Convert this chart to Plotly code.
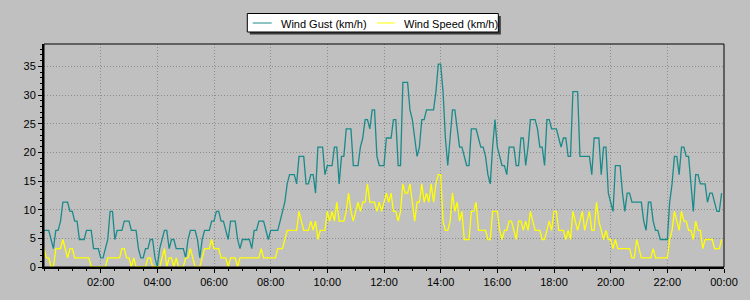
import pandas as pd
import plotly.graph_objects as go

# Five-minute samples for one day (km/h)
wind_gust = [
    6.4, 6.4, 6.4, 4.8, 3.2, 6.4, 6.4, 8.0, 11.3, 11.3, 11.3, 9.7,
    9.7, 8.0, 8.0, 4.8, 4.8, 4.8, 6.4, 6.4, 6.4, 3.2, 3.2, 3.2,
    1.6, 1.6, 3.2, 4.8, 9.7, 9.7, 4.8, 6.4, 6.4, 6.4, 8.0, 8.0,
    8.0, 6.4, 6.4, 6.4, 3.2, 1.6, 1.6, 3.2, 3.2, 4.8, 4.8, 1.6,
    0.0, 3.2, 4.8, 6.4, 6.4, 3.2, 4.8, 4.8, 3.2, 3.2, 3.2, 3.2,
    1.6, 4.8, 6.4, 6.4, 6.4, 4.8, 1.6, 4.8, 6.4, 6.4, 6.4, 8.0,
    8.0, 9.7, 9.7, 8.0, 8.0, 6.4, 4.8, 8.0, 8.0, 8.0, 4.8, 3.2,
    4.8, 4.8, 4.8, 4.8, 3.2, 6.4, 6.4, 8.0, 8.0, 8.0, 6.4, 4.8,
    6.4, 6.4, 6.4, 6.4, 8.0, 9.7, 11.3, 14.5, 16.1, 16.1, 16.1, 14.5,
    19.3, 19.3, 19.3, 14.5, 14.5, 16.1, 16.1, 12.9, 20.9, 20.9, 20.9, 16.1,
    17.7, 17.7, 17.7, 20.9, 20.9, 14.5, 19.3, 19.3, 24.1, 24.1, 24.1, 17.7,
    17.7, 17.7, 20.9, 22.5, 25.7, 25.7, 24.1, 27.4, 27.4, 19.3, 17.7, 17.7,
    17.7, 22.5, 22.5, 22.5, 25.7, 25.7, 17.7, 17.7, 32.2, 32.2, 32.2, 27.4,
    25.7, 22.5, 19.3, 20.9, 25.7, 25.7, 27.4, 27.4, 27.4, 27.4, 30.6, 35.4,
    35.4, 30.6, 22.5, 17.7, 22.5, 27.4, 27.4, 24.1, 20.9, 20.9, 19.3, 17.7,
    17.7, 24.1, 24.1, 24.1, 22.5, 20.9, 20.9, 19.3, 16.1, 14.5, 20.9, 25.7,
    20.9, 19.3, 17.7, 17.7, 16.1, 20.9, 20.9, 20.9, 17.7, 17.7, 22.5, 22.5,
    17.7, 20.9, 25.7, 25.7, 25.7, 24.1, 20.9, 20.9, 17.7, 25.7, 25.7, 24.1,
    24.1, 24.1, 22.5, 20.9, 22.5, 22.5, 19.3, 19.3, 30.6, 30.6, 30.6, 19.3,
    19.3, 19.3, 19.3, 19.3, 16.1, 22.5, 22.5, 22.5, 16.1, 20.9, 20.9, 12.9,
    11.3, 9.7, 17.7, 17.7, 17.7, 12.9, 9.7, 12.9, 12.9, 11.3, 11.3, 11.3,
    11.3, 11.3, 8.0, 6.4, 11.3, 11.3, 8.0, 6.4, 6.4, 4.8, 4.8, 4.8,
    4.8, 11.3, 14.5, 19.3, 19.3, 16.1, 20.9, 20.9, 19.3, 19.3, 14.5, 9.7,
    16.1, 16.1, 14.5, 14.5, 14.5, 11.3, 12.9, 12.9, 11.3, 9.7, 9.7, 12.9,
]

wind_speed = [
    3.2, 1.6, 1.6, 0.0, 0.0, 3.2, 3.2, 3.2, 4.8, 3.2, 1.6, 3.2,
    3.2, 1.6, 1.6, 1.6, 1.6, 1.6, 1.6, 1.6, 0.0, 0.0, 0.0, 0.0,
    0.0, 0.0, 0.0, 1.6, 1.6, 1.6, 1.6, 1.6, 1.6, 3.2, 3.2, 1.6,
    1.6, 0.0, 1.6, 0.0, 0.0, 0.0, 0.0, 0.0, 1.6, 1.6, 0.0, 0.0,
    0.0, 0.0, 1.6, 3.2, 0.0, 1.6, 1.6, 0.0, 1.6, 0.0, 0.0, 0.0,
    1.6, 1.6, 3.2, 1.6, 0.0, 0.0, 0.0, 1.6, 3.2, 3.2, 3.2, 4.8,
    3.2, 3.2, 3.2, 1.6, 1.6, 1.6, 0.0, 1.6, 1.6, 1.6, 0.0, 1.6,
    1.6, 1.6, 1.6, 1.6, 1.6, 1.6, 1.6, 1.6, 3.2, 1.6, 1.6, 1.6,
    1.6, 1.6, 1.6, 3.2, 3.2, 3.2, 4.8, 6.4, 6.4, 6.4, 6.4, 6.4,
    9.7, 8.0, 6.4, 6.4, 6.4, 8.0, 6.4, 8.0, 4.8, 6.4, 6.4, 6.4,
    9.7, 8.0, 9.7, 8.0, 11.3, 8.0, 8.0, 8.0, 9.7, 12.9, 9.7, 8.0,
    9.7, 11.3, 9.7, 11.3, 11.3, 14.5, 11.3, 11.3, 11.3, 9.7, 11.3, 9.7,
    11.3, 12.9, 11.3, 12.9, 9.7, 9.7, 8.0, 9.7, 14.5, 12.9, 12.9, 14.5,
    11.3, 8.0, 11.3, 11.3, 14.5, 11.3, 12.9, 11.3, 14.5, 11.3, 14.5, 16.1,
    16.1, 8.0, 6.4, 6.4, 8.0, 12.9, 9.7, 11.3, 8.0, 9.7, 4.8, 4.8,
    4.8, 9.7, 9.7, 11.3, 6.4, 6.4, 6.4, 6.4, 4.8, 4.8, 9.7, 9.7,
    9.7, 6.4, 4.8, 6.4, 6.4, 8.0, 8.0, 6.4, 4.8, 8.0, 8.0, 6.4,
    8.0, 6.4, 9.7, 8.0, 6.4, 6.4, 6.4, 4.8, 4.8, 6.4, 8.0, 6.4,
    9.7, 9.7, 6.4, 6.4, 6.4, 4.8, 6.4, 4.8, 9.7, 8.0, 6.4, 8.0,
    9.7, 6.4, 8.0, 9.7, 6.4, 6.4, 11.3, 8.0, 6.4, 4.8, 6.4, 4.8,
    4.8, 3.2, 4.8, 3.2, 3.2, 3.2, 3.2, 3.2, 3.2, 1.6, 1.6, 4.8,
    3.2, 1.6, 1.6, 1.6, 1.6, 1.6, 3.2, 1.6, 1.6, 1.6, 1.6, 1.6,
    1.6, 4.8, 6.4, 9.7, 8.0, 6.4, 9.7, 8.0, 8.0, 6.4, 6.4, 4.8,
    8.0, 6.4, 6.4, 3.2, 4.8, 4.8, 4.8, 4.8, 3.2, 3.2, 3.2, 4.8,
]

series_names = ["Wind Gust (km/h)", "Wind Speed (km/h)"]
series_colors = ["#1A8A8A", "#FFFF00"]

times = pd.date_range("2024-01-01 00:00", periods=len(wind_gust), freq="5min")

x_tick_values = pd.date_range("2024-01-01 02:00", "2024-01-02 00:00", freq="2h")
x_tick_labels = ["02:00", "04:00", "06:00", "08:00", "10:00", "12:00",
                 "14:00", "16:00", "18:00", "20:00", "22:00", "00:00"]
y_tick_values = [0, 5, 10, 15, 20, 25, 30, 35]

FONT = "Liberation Sans, Arial, sans-serif"

# plot area in pixels (for placing the hand-drawn legend box)
L, R, T, B = 44, 728, 44, 267


def px(x):
    return (x - L) / (R - L)


def py(y):
    return (B - y) / (B - T)


fig = go.Figure()
for vals, name, col in zip([wind_gust, wind_speed], series_names, series_colors):
    fig.add_trace(go.Scatter(x=times, y=vals, mode="lines", name=name,
                             line=dict(color=col, width=1.3), showlegend=False))

grid = dict(showgrid=True, gridcolor="#8C8C8C", gridwidth=1, griddash="1px,2px")

shapes = [
    dict(type="rect", xref="paper", yref="paper", x0=0, x1=1, y0=0, y1=1,
         line=dict(color="black", width=1), layer="above"),
    # legend shadow and box
    dict(type="rect", xref="paper", yref="paper", x0=px(251), x1=px(503.5),
         y0=py(34.5), y1=py(16), line=dict(width=0), fillcolor="#3A3A3A"),
    dict(type="rect", xref="paper", yref="paper", x0=px(248.5), x1=px(501),
         y0=py(32), y1=py(13.5), line=dict(color="black", width=1), fillcolor="white"),
]
annotations = []
legend_items = [(254, 273, 280), (379, 397, 404)]
for (lx0, lx1, tx), name, col in zip(legend_items, series_names, series_colors):
    shapes.append(dict(type="line", xref="paper", yref="paper", x0=px(lx0), x1=px(lx1),
                       y0=py(23), y1=py(23), line=dict(color=col, width=1)))
    annotations.append(dict(xref="paper", yref="paper", x=px(tx), y=py(23.5),
                            xanchor="left", yanchor="middle", text=name, showarrow=False,
                            font=dict(family=FONT, size=11, color="black")))

fig.update_layout(
    width=750, height=300,
    margin=dict(l=L, r=750 - R, t=T, b=300 - B),
    paper_bgcolor="#C0C0C0", plot_bgcolor="#C0C0C0",
    font=dict(family=FONT, size=11, color="black"),
    showlegend=False,
    xaxis=dict(type="date", range=["2024-01-01 00:00", "2024-01-02 00:00"],
               tickmode="array", tickvals=x_tick_values, ticktext=x_tick_labels,
               ticks="outside", ticklen=4, tickcolor="black",
               showline=True, linecolor="black", linewidth=2, zeroline=False,
               minor=dict(ticks="outside", ticklen=2, tickcolor="black",
                          dtick=1800000, tick0="2024-01-01", showgrid=False),
               **grid),
    yaxis=dict(range=[0, 38.9], tickmode="array", tickvals=y_tick_values,
               ticks="outside", ticklen=4, tickcolor="black",
               showline=True, linecolor="black", linewidth=2, zeroline=False,
               minor=dict(ticks="outside", ticklen=2, tickcolor="black",
                          dtick=1, tick0=0, showgrid=False),
               **grid),
    shapes=shapes,
    annotations=annotations,
)

fig.write_html("out.html")
